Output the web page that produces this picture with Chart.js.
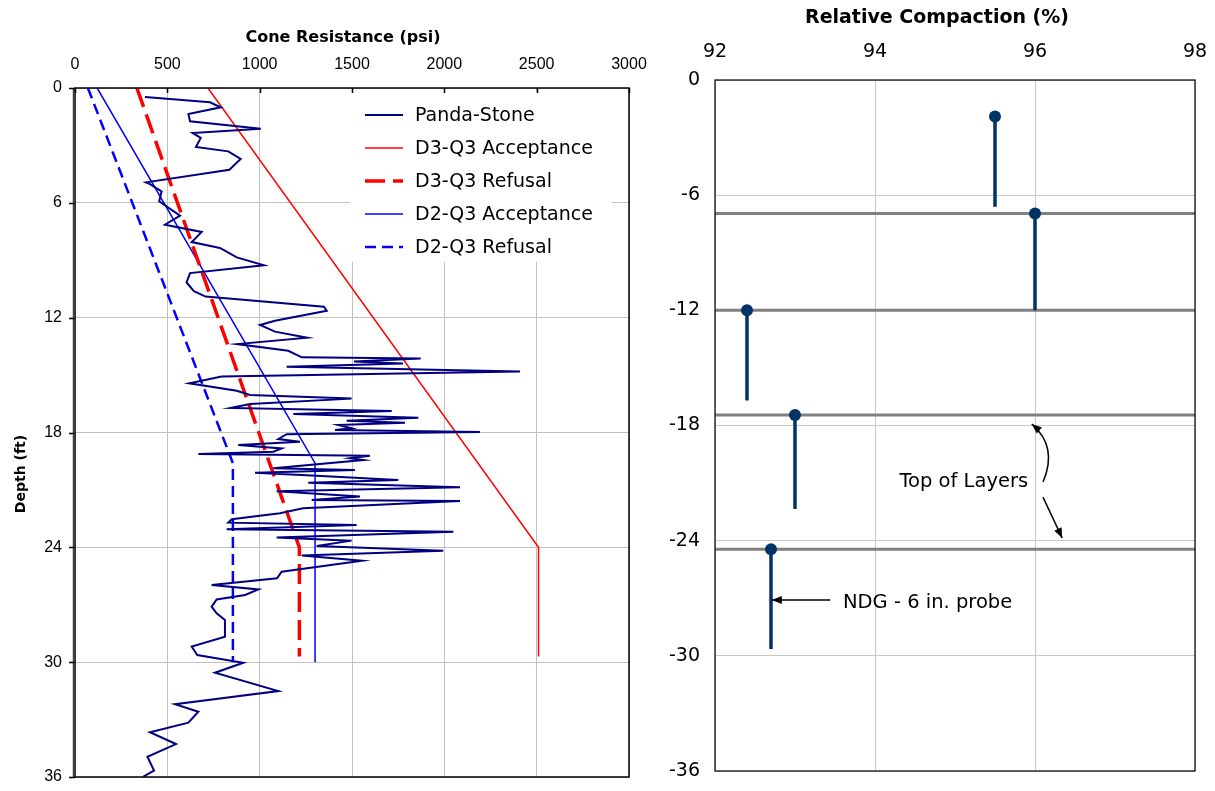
<!DOCTYPE html>
<html>
<head>
<meta charset="utf-8">
<title>Cone resistance and relative compaction</title>
<script src="https://cdn.jsdelivr.net/npm/chart.js@4.4.1/dist/chart.umd.min.js"></script>
<style>
  html, body { margin: 0; padding: 0; background: #fff; }
  #wrap { position: relative; width: 1215px; height: 791px; }
  #cpt { position: absolute; left: 0; top: 0; }
  #rc { position: absolute; left: 650px; top: 0; }
</style>
</head>
<body>
<div id="wrap">
  <canvas id="cpt" width="650" height="791"></canvas>
  <canvas id="rc" width="565" height="791"></canvas>
</div>
<script>
// Panda-Stone cone resistance profile
var pandaDepth = [0.47, 0.75, 1.01, 1.36, 1.74, 2.13, 2.35, 2.61, 3.08, 3.31,
    3.71, 4.27, 4.93, 5.02, 5.40, 5.92, 6.67, 7.14, 7.52, 8.05,
    8.36, 8.85, 9.26, 9.67, 10.16, 10.61, 10.90, 11.43, 11.64, 12.16,
    12.38, 12.73, 13.05, 13.38, 13.73, 14.07, 14.14, 14.29, 14.39, 14.56,
    14.81, 15.08, 15.43, 15.82, 16.04, 16.23, 16.51, 16.72, 16.88, 17.03,
    17.23, 17.38, 17.49, 17.61, 17.78, 17.87, 17.97, 18.09, 18.34, 18.48,
    18.65, 18.83, 19.00, 19.12, 19.21, 19.35, 19.44, 19.87, 19.96, 20.10,
    20.26, 20.48, 20.62, 20.86, 21.07, 21.35, 21.53, 21.58, 21.96, 22.22,
    22.53, 22.71, 22.83, 23.06, 23.18, 23.48, 23.65, 23.93, 24.18, 24.43,
    24.70, 25.27, 25.62, 25.97, 26.20, 26.49, 26.72, 27.10, 27.45, 27.80,
    28.67, 29.19, 29.63, 30.03, 30.55, 31.51, 32.20, 32.59, 33.16, 33.66,
    34.28, 34.94, 35.67, 35.98];
var pandaPsi = [379, 731, 789, 614, 623, 1006, 637, 681, 655, 830,
    897, 836, 384, 406, 469, 456, 569, 487, 686, 632,
    785, 876, 1023, 623, 604, 644, 707, 1348, 1363, 1083,
    1002, 1083, 1258, 879, 1155, 1228, 1872, 1511, 1776, 1146,
    2410, 794, 619, 876, 948, 1498, 948, 843, 1715, 1182,
    1859, 1471, 1787, 1426, 1498, 1408, 2193, 1146, 1101, 1218,
    884, 1119, 1074, 668, 1597, 1489, 1561, 1074, 1516, 975,
    1309, 1751, 1263, 2085, 1092, 1543, 1282, 2085, 1235, 1110,
    849, 830, 1525, 821, 2049, 1092, 1498, 1309, 1994, 1228,
    1554, 1119, 1094, 740, 993, 921, 767, 740, 767, 812,
    812, 632, 662, 911, 758, 1101, 542, 668, 614, 406,
    547, 392, 428, 370];

// acceptance / refusal criteria
var d3AcceptDepth = [0, 24, 29.7];
var d3AcceptPsi = [720, 2510, 2510];
var d3RefusalDepth = [0, 24, 29.7];
var d3RefusalPsi = [335, 1215, 1215];
var d2AcceptDepth = [0, 19.6, 30];
var d2AcceptPsi = [120, 1300, 1300];
var d2RefusalDepth = [0, 19.6, 30];
var d2RefusalPsi = [70, 855, 855];

var psiTicks = [0, 500, 1000, 1500, 2000, 2500, 3000];
var depthTicks = [0, 6, 12, 18, 24, 30, 36];

// nuclear density gauge readings, one per layer
var compaction = [95.5, 96.0, 92.4, 93.0, 92.7];
var probeTop = [-1.9, -6.95, -12.0, -17.45, -24.45];
var probeBottom = [-6.6, -12.0, -16.7, -22.35, -29.65];
var layerTops = [-6.95, -12.0, -17.45, -24.45];

var compactionTicks = [92, 94, 96, 98];
var elevTicks = [0, -6, -12, -18, -24, -30, -36];

Chart.defaults.font.family = '"DejaVu Sans", Verdana, sans-serif';
Chart.defaults.color = '#000';

function pairs(xs, ys) {
    return xs.map(function (x, i) { return { x: x, y: ys[i] }; });
}

var armFont = '"Liberation Sans", Arial, sans-serif';

// box round the plot area, plus short tick marks where asked
var framePlugin = {
    id: 'frame',
    afterDatasetsDraw: function (chart, args, opts) {
        var a = chart.chartArea, ctx = chart.ctx;
        ctx.save();
        ctx.strokeStyle = '#000';
        ctx.lineWidth = opts.width || 1.5;
        ctx.strokeRect(a.left, a.top, a.right - a.left, a.bottom - a.top);
        if (opts.leftWidth) {
            ctx.strokeStyle = '#404040';
            ctx.lineWidth = opts.leftWidth;
            ctx.beginPath();
            ctx.moveTo(a.left - 1, a.top);
            ctx.lineTo(a.left - 1, a.bottom);
            ctx.stroke();
        }
        if (opts.marks) {
            var xs = chart.scales.x, ys = chart.scales.y;
            ctx.strokeStyle = '#000';
            ctx.lineWidth = 1.5;
            ctx.beginPath();
            xs.ticks.forEach(function (t) {
                var x = Math.round(xs.getPixelForValue(t.value)) + 0.5;
                ctx.moveTo(x, a.top);
                ctx.lineTo(x, a.top + 5);
            });
            ys.ticks.forEach(function (t) {
                var y = Math.round(ys.getPixelForValue(t.value)) + 0.5;
                ctx.moveTo(a.left - 6, y);
                ctx.lineTo(a.left, y);
            });
            ctx.stroke();
        }
        ctx.restore();
    }
};

// axis titles placed against the plot area
var titlesPlugin = {
    id: 'titles',
    afterDraw: function (chart, args, opts) {
        var a = chart.chartArea, ctx = chart.ctx;
        ctx.save();
        ctx.fillStyle = '#000';
        ctx.textAlign = 'center';
        ctx.textBaseline = 'middle';
        (opts.items || []).forEach(function (t) {
            ctx.save();
            ctx.font = 'bold ' + t.size + 'px "DejaVu Sans", Verdana, sans-serif';
            ctx.translate(a.left + t.dx, a.top + t.dy);
            if (t.rotate) ctx.rotate(-Math.PI / 2);
            ctx.fillText(t.text, 0, 0);
            ctx.restore();
        });
        ctx.restore();
    }
};

// legend sitting in the upper right of the cone plot
var boxLegend = {
    id: 'boxLegend',
    beforeDatasetsDraw: function (chart) {
        var a = chart.chartArea, ctx = chart.ctx;
        var x0 = a.left + 275, y0 = a.top + 4;
        ctx.save();
        ctx.fillStyle = '#fff';
        ctx.fillRect(x0, y0, 262, 170);
        ctx.font = '19px "DejaVu Sans", Verdana, sans-serif';
        ctx.textBaseline = 'middle';
        ctx.fillStyle = '#000';
        chart.data.datasets.forEach(function (ds, i) {
            var y = a.top + 27 + 33 * i;
            ctx.strokeStyle = ds.borderColor;
            ctx.lineWidth = ds.borderWidth;
            ctx.setLineDash(ds.borderDash || []);
            ctx.beginPath();
            ctx.moveTo(x0 + 15, y);
            ctx.lineTo(x0 + 53, y);
            ctx.stroke();
            ctx.fillText(ds.label, x0 + 65, y + 1);
        });
        ctx.restore();
    }
};

function plain(v) { return String(v); }

new Chart(document.getElementById('cpt'), {
    type: 'scatter',
    data: {
        datasets: [
            { label: 'Panda-Stone', data: pairs(pandaPsi, pandaDepth), borderColor: '#000080', borderWidth: 2 },
            { label: 'D3-Q3 Acceptance', data: pairs(d3AcceptPsi, d3AcceptDepth), borderColor: '#ff0000', borderWidth: 1.5 },
            { label: 'D3-Q3 Refusal', data: pairs(d3RefusalPsi, d3RefusalDepth), borderColor: '#ff0000', borderWidth: 3.5, borderDash: [20, 8] },
            { label: 'D2-Q3 Acceptance', data: pairs(d2AcceptPsi, d2AcceptDepth), borderColor: '#0000ff', borderWidth: 1.5 },
            { label: 'D2-Q3 Refusal', data: pairs(d2RefusalPsi, d2RefusalDepth), borderColor: '#0000ff', borderWidth: 2.5, borderDash: [11, 6] }
        ]
    },
    options: {
        responsive: false,
        animation: false,
        showLine: true,
        elements: { point: { radius: 0, hoverRadius: 0 }, line: { tension: 0 } },
        layout: { padding: { left: 0, top: 0, right: 21, bottom: 14 } },
        plugins: {
            legend: { display: false },
            tooltip: { enabled: false },
            frame: { width: 1.5, leftWidth: 2.5, marks: true },
            titles: {
                items: [
                    { text: 'Cone Resistance (psi)', size: 16, dx: 268, dy: -50 },
                    { text: 'Depth (ft)', size: 14, dx: -54, dy: 386, rotate: true }
                ]
            }
        },
        scales: {
            x: {
                type: 'linear',
                position: 'top',
                min: psiTicks[0],
                max: psiTicks[psiTicks.length - 1],
                ticks: { stepSize: psiTicks[1] - psiTicks[0], autoSkip: false, maxRotation: 0, padding: 3, callback: plain, font: { family: armFont, size: 16 } },
                grid: { color: '#c0c0c0', tickLength: 11, tickColor: 'rgba(0,0,0,0)' },
                border: { display: false },
                afterFit: function (s) { s.height = 88; }
            },
            y: {
                type: 'linear',
                reverse: true,
                min: depthTicks[0],
                max: depthTicks[depthTicks.length - 1],
                ticks: { stepSize: depthTicks[1] - depthTicks[0], autoSkip: false, padding: 3, callback: plain, font: { family: armFont, size: 16 } },
                grid: { color: '#c0c0c0', tickLength: 10, tickColor: 'rgba(0,0,0,0)' },
                border: { display: false },
                afterFit: function (s) { s.width = 75; }
            }
        }
    },
    plugins: [boxLegend, framePlugin, titlesPlugin]
});

// labels and arrows on the compaction plot
var notesPlugin = {
    id: 'notes',
    afterDatasetsDraw: function (chart) {
        var xs = chart.scales.x, ys = chart.scales.y, ctx = chart.ctx;
        function px(v) { return xs.getPixelForValue(v); }
        function py(v) { return ys.getPixelForValue(v); }
        function head(fx, fy, tx, ty) {
            var ang = Math.atan2(ty - fy, tx - fx), L = 10, W = 4;
            ctx.beginPath();
            ctx.moveTo(tx, ty);
            ctx.lineTo(tx - L * Math.cos(ang) + W * Math.sin(ang), ty - L * Math.sin(ang) - W * Math.cos(ang));
            ctx.lineTo(tx - L * Math.cos(ang) - W * Math.sin(ang), ty - L * Math.sin(ang) + W * Math.cos(ang));
            ctx.closePath();
            ctx.fill();
        }
        ctx.save();
        ctx.fillStyle = '#000';
        ctx.strokeStyle = '#000';
        ctx.lineWidth = 1.5;
        ctx.font = '19.5px "DejaVu Sans", Verdana, sans-serif';
        ctx.textBaseline = 'middle';

        ctx.textAlign = 'center';
        ctx.fillText('Top of Layers', px(95.11), py(-20.93));

        // curved pointer up to the layer line
        var c0 = [px(96.1), py(-20.94)], c1 = [px(96.29), py(-19.12)], c2 = [px(95.96), py(-17.92)];
        ctx.beginPath();
        ctx.moveTo(c0[0], c0[1]);
        ctx.quadraticCurveTo(c1[0], c1[1], c2[0], c2[1]);
        ctx.stroke();
        head(c1[0], c1[1], c2[0], c2[1]);

        // straight pointer down to the next one
        var s0 = [px(96.1), py(-21.73)], s1 = [px(96.34), py(-23.86)];
        ctx.beginPath();
        ctx.moveTo(s0[0], s0[1]);
        ctx.lineTo(s1[0], s1[1]);
        ctx.stroke();
        head(s0[0], s0[1], s1[0], s1[1]);

        ctx.textAlign = 'left';
        ctx.fillText('NDG - 6 in. probe', px(93.6), py(-27.25));
        var n0 = [px(93.44), py(-27.09)], n1 = [px(92.71), py(-27.09)];
        ctx.beginPath();
        ctx.moveTo(n0[0], n0[1]);
        ctx.lineTo(n1[0], n1[1]);
        ctx.stroke();
        head(n0[0], n0[1], n1[0], n1[1]);
        ctx.restore();
    }
};

var rcSets = [];
compaction.forEach(function (c, i) {
    rcSets.push({
        label: 'NDG ' + (i + 1),
        data: [{ x: c, y: probeTop[i] }, { x: c, y: probeBottom[i] }],
        borderColor: '#003366',
        backgroundColor: '#003366',
        borderWidth: 3.5,
        pointRadius: [6, 0],
        pointBorderWidth: 0,
        order: 1
    });
});
layerTops.forEach(function (t, i) {
    rcSets.push({
        label: 'Layer ' + (i + 1),
        data: [{ x: compactionTicks[0], y: t }, { x: compactionTicks[compactionTicks.length - 1], y: t }],
        borderColor: '#808080',
        borderWidth: 3,
        pointRadius: 0,
        order: 2
    });
});

new Chart(document.getElementById('rc'), {
    type: 'scatter',
    data: { datasets: rcSets },
    options: {
        responsive: false,
        animation: false,
        showLine: true,
        elements: { line: { tension: 0 }, point: { hoverRadius: 0 } },
        layout: { padding: { left: 0, top: 0, right: 20, bottom: 20 } },
        plugins: {
            legend: { display: false },
            tooltip: { enabled: false },
            frame: { width: 1.2 },
            titles: {
                items: [
                    { text: 'Relative Compaction (%)', size: 19, dx: 222, dy: -62 }
                ]
            }
        },
        scales: {
            x: {
                type: 'linear',
                position: 'top',
                min: compactionTicks[0],
                max: compactionTicks[compactionTicks.length - 1],
                ticks: { stepSize: compactionTicks[1] - compactionTicks[0], autoSkip: false, maxRotation: 0, padding: 5, font: { size: 19 } },
                grid: { color: '#c8c8c8', tickLength: 12, tickColor: 'rgba(0,0,0,0)' },
                border: { display: false },
                afterFit: function (s) { s.height = 80; }
            },
            y: {
                type: 'linear',
                min: elevTicks[elevTicks.length - 1],
                max: elevTicks[0],
                ticks: { stepSize: elevTicks[0] - elevTicks[1], autoSkip: false, padding: 5, font: { size: 19 } },
                grid: { color: '#c8c8c8', tickLength: 10, tickColor: 'rgba(0,0,0,0)' },
                border: { display: false },
                afterFit: function (s) { s.width = 65; }
            }
        }
    },
    plugins: [framePlugin, titlesPlugin, notesPlugin]
});
</script>
</body>
</html>
